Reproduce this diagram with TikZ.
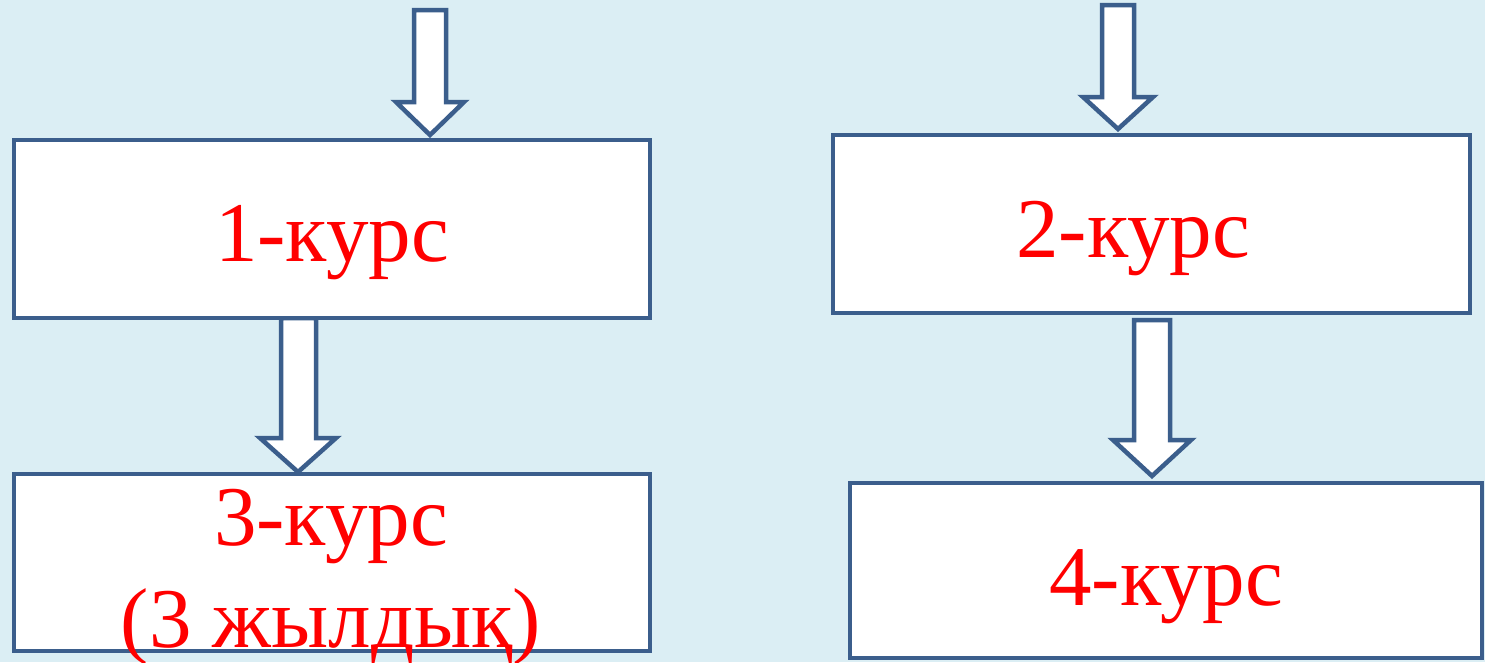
\documentclass[tikz,border=0pt]{standalone}
\usepackage{fontspec}
\setmainfont{Liberation Serif}
\definecolor{bgblue}{HTML}{DBEEF4}
\definecolor{edgeblue}{HTML}{3B5E8C}
\definecolor{txtred}{HTML}{FF0000}
\tikzset{
  box/.style={draw=edgeblue, line width=4.5pt, fill=white, rectangle, inner sep=0pt},
  blockarrow/.style={draw=edgeblue, line width=4.5pt, fill=white, line join=miter},
  label/.style={text=txtred, font=\fontsize{85pt}{92pt}\selectfont, anchor=base, inner sep=0pt}
}
\begin{document}
\begin{tikzpicture}[x=1pt,y=-1pt]
\fill[bgblue] (0,0) rectangle (1485,662);
\useasboundingbox (0,0) rectangle (1485,662);
% block arrows
\draw[blockarrow] (414,10) -- (446,10) -- (446,102) -- (464,102) -- (430,135) -- (396,102) -- (414,102) -- cycle;
\draw[blockarrow] (281,318) -- (316,318) -- (316,438) -- (336,438) -- (298,472) -- (260,438) -- (281,438) -- cycle;
\draw[blockarrow] (1102,5) -- (1134,5) -- (1134,97) -- (1153,97) -- (1118,129) -- (1083,97) -- (1102,97) -- cycle;
\draw[blockarrow] (1134,320) -- (1170,320) -- (1170,440) -- (1191,440) -- (1152,476) -- (1113,440) -- (1134,440) -- cycle;
% boxes
\node[box, minimum width=636pt, minimum height=178pt] (b1) at (332,229) {};
\node[box, minimum width=637pt, minimum height=178pt] (b2) at (1151.5,224) {};
\node[box, minimum width=636pt, minimum height=177pt] (b3) at (332,562.5) {};
\node[box, minimum width=632pt, minimum height=175pt] (b4) at (1166,570.5) {};
% texts
\node[label] (t1) at (332,261) {1-курс};
\node[label] (t2) at (1133,257) {2-курс};
\node[label] (t3) at (331,545) {3-курс};
\node[label] (t3b) at (331,647) {(3 жылдық)};
\node[label] (t4) at (1166,605) {4-курс};
\end{tikzpicture}
\end{document}
